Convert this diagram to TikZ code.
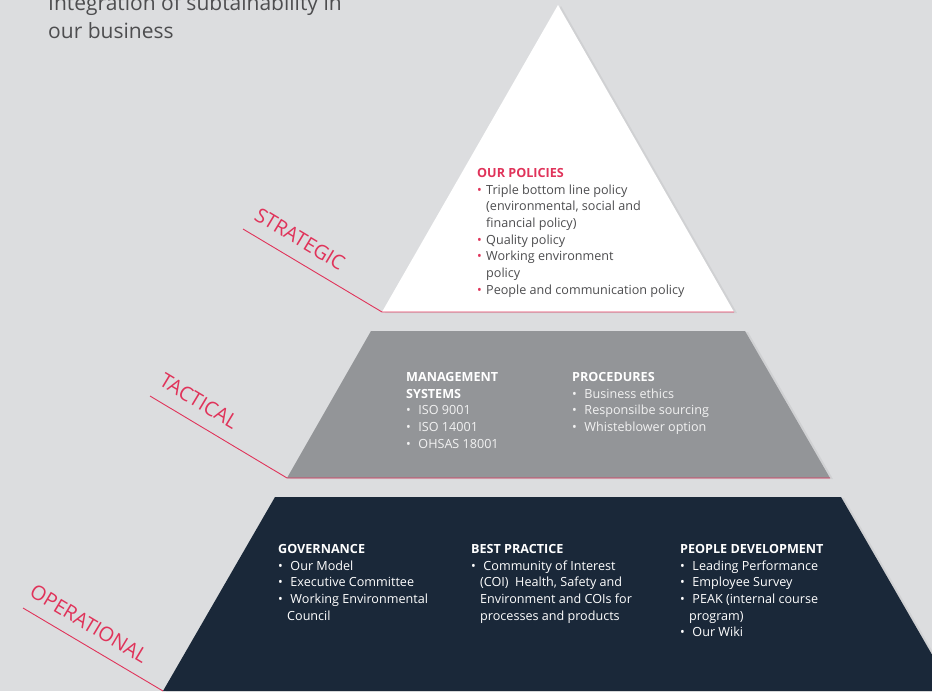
\documentclass[tikz,border=0pt]{standalone}
\usepackage{fontspec}
\setmainfont{Open Sans}
\usepackage{xcolor}
\usetikzlibrary{positioning, shadows}
\definecolor{pyrBack}{HTML}{DCDDDF}
\definecolor{pyrGrey}{HTML}{939598}
\definecolor{pyrNavy}{HTML}{1A2839}
\definecolor{pyrRed}{HTML}{E0335A}
\definecolor{pyrText}{HTML}{4D4D4F}
\definecolor{pyrLight}{HTML}{F2F2F2}

% bullet and hanging indent for the level lists
\newcommand{\bul}[1][pyrRed]{\makebox[9pt][l]{\textcolor{#1}{\textbullet}}}
\newcommand{\ind}{\hspace*{9pt}}

\begin{document}
\begin{tikzpicture}[
  x=1pt, y=-1pt,
  shade/.style={drop shadow={opacity=.12, shadow xshift=3pt, shadow yshift=-1pt}},
  listbox/.style={anchor=north west, align=left, inner sep=0pt,
                  font=\fontsize{12.6}{16.7}\selectfont},
  levellabel/.style={text=pyrRed, rotate=-31, font=\fontsize{20}{22}\selectfont},
  redline/.style={draw=pyrRed, line width=0.9pt},
]
\useasboundingbox (0,0) rectangle (932,691);
\fill[pyrBack] (0,0) rectangle (932,691);

% corners of the three levels
\coordinate (s-top) at (558,5);
\coordinate (s-bl) at (382,312);
\coordinate (s-br) at (734,312);
\coordinate (t-tl) at (371,331);
\coordinate (t-tr) at (745,331);
\coordinate (t-br) at (830,478);
\coordinate (t-bl) at (287,478);
\coordinate (o-tl) at (275,497);
\coordinate (o-tr) at (841,497);
\coordinate (o-br) at (953,691);
\coordinate (o-bl) at (163,691);

\fill[white, shade] (s-top) -- (s-br) -- (s-bl) -- cycle;
\fill[pyrGrey, shade] (t-tl) -- (t-tr) -- (t-br) -- (t-bl) -- cycle;
\fill[pyrNavy, shade] (o-tl) -- (o-tr) -- (o-br) -- (o-bl) -- cycle;

% label lines
\coordinate (s-end) at (243,229);
\coordinate (t-end) at (150,396);
\coordinate (o-end) at (23,608);
\draw[redline] (s-end) -- (s-bl) -- (s-br);
\draw[redline] (t-end) -- (t-bl) -- (t-br);
\draw[redline] (o-end) -- (o-bl);

\node[levellabel] (strategic) at (300,239) {STRATEGIC};
\node[levellabel] (tactical) at (199,401) {TACTICAL};
\node[levellabel] (operational) at (89,624) {OPERATIONAL};

% title
\node[anchor=south west, align=left, inner sep=0pt, text=pyrText,
      font=\fontsize{21}{28}\selectfont] (title) at (48,39)
  {Integration of subtainability in\\our business};

% strategic level
\node[listbox, text=pyrText] (policies) at (477,168)
  {{\bfseries\color{pyrRed}OUR POLICIES}\\
   \bul Triple bottom line policy\\
   \ind (environmental, social and\\
   \ind financial policy)\\
   \bul Quality policy\\
   \bul Working environment\\
   \ind policy\\
   \bul People and communication policy};

% tactical level
\node[listbox, text=pyrLight] (mgmt) at (406,372)
  {{\bfseries\color{white}MANAGEMENT}\\
   {\bfseries\color{white}SYSTEMS}\\
   \bul[pyrLight] ISO 9001\\
   \bul[pyrLight] ISO 14001\\
   \bul[pyrLight] OHSAS 18001};
\node[listbox, text=pyrLight] (procedures) at (572,372)
  {{\bfseries\color{white}PROCEDURES}\\
   \bul[pyrLight] Business ethics\\
   \bul[pyrLight] Responsilbe sourcing\\
   \bul[pyrLight] Whisteblower option};

% operational level
\node[listbox, text=white] (governance) at (278,544)
  {{\bfseries GOVERNANCE}\\
   \bul[white] Our Model\\
   \bul[white] Executive Committee\\
   \bul[white] Working Environmental\\
   \ind Council};
\node[listbox, text=white] (practice) at (471,544)
  {{\bfseries BEST PRACTICE}\\
   \bul[white] Community of Interest\\
   \ind (COI)\ \ Health, Safety and\\
   \ind Environment and COIs for\\
   \ind processes and products};
\node[listbox, text=white] (people) at (680,544)
  {{\bfseries PEOPLE DEVELOPMENT}\\
   \bul[white] Leading Performance\\
   \bul[white] Employee Survey\\
   \bul[white] PEAK (internal course\\
   \ind program)\\
   \bul[white] Our Wiki};
\end{tikzpicture}
\end{document}
